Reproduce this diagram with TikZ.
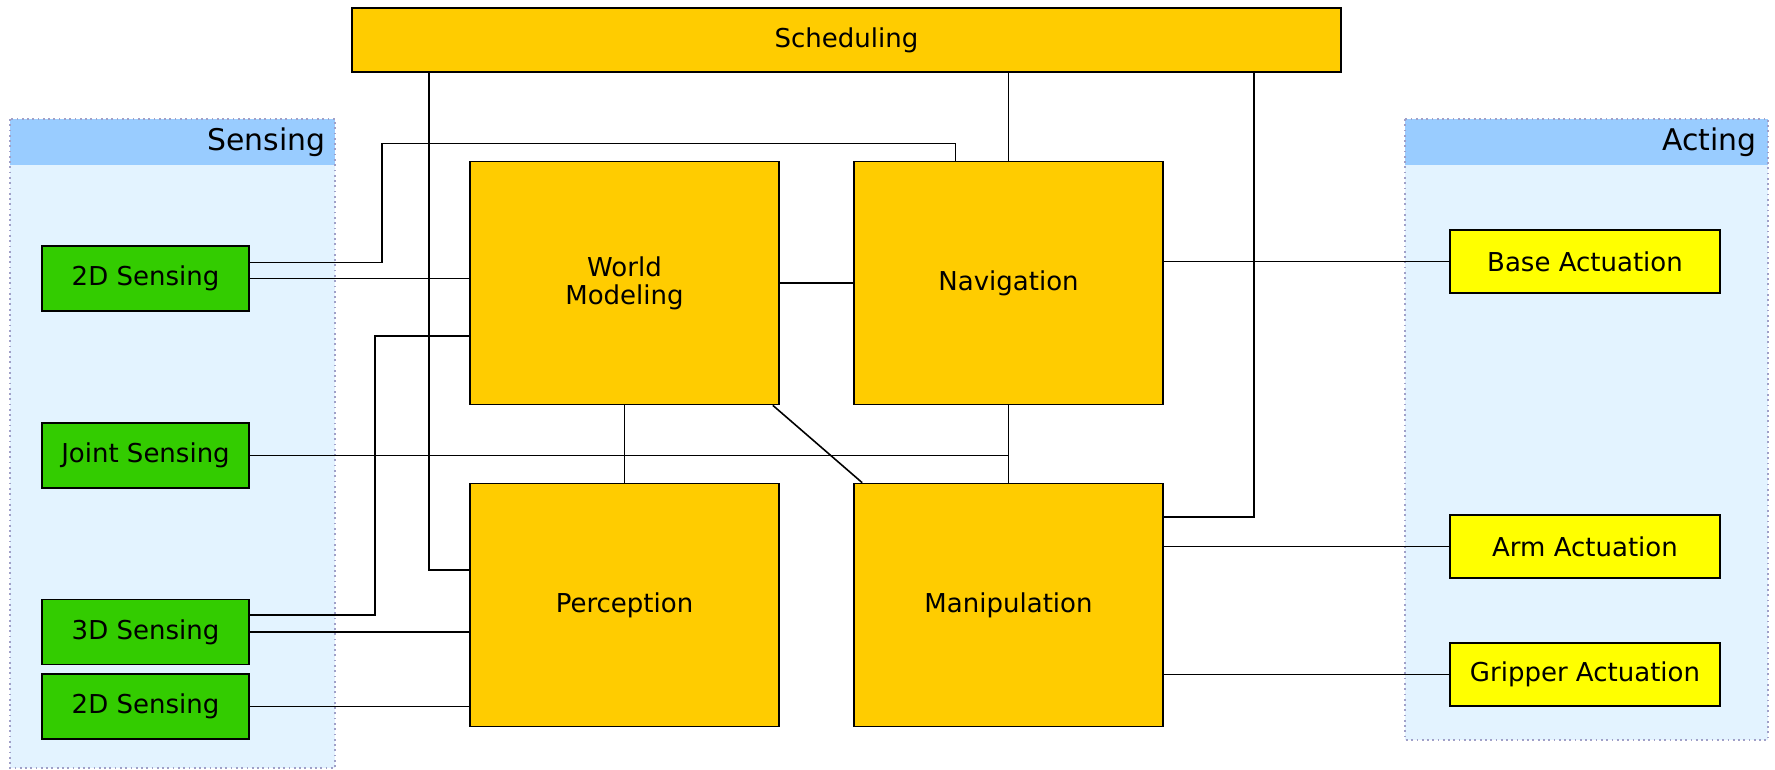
\documentclass[tikz,border=0pt]{standalone}
\usepackage{fontspec}
\setmainfont{DejaVu Sans}
\usepackage{tikz}
\usetikzlibrary{calc}

\definecolor{modcol}{HTML}{FFCC00}
\definecolor{senscol}{HTML}{33CC00}
\definecolor{actcol}{HTML}{FFFF00}
\definecolor{headcol}{HTML}{99CCFF}
\definecolor{panelcol}{HTML}{E3F3FF}
\definecolor{framecol}{HTML}{A0A0C8}

\tikzset{
  module/.style={draw=black, line width=1pt, fill=modcol, minimum width=6.18cm, minimum height=4.86cm, inner sep=0pt, align=center, font=\fontsize{14.8}{16}\selectfont},
  sensor/.style={draw=black, line width=1pt, fill=senscol, minimum width=4.14cm, minimum height=1.3cm, inner sep=0pt, font=\fontsize{14.8}{16}\selectfont},
  actor/.style={draw=black, line width=1pt, fill=actcol, minimum width=5.4cm, minimum height=1.26cm, inner sep=0pt, font=\fontsize{14.8}{16}\selectfont},
  wire/.style={line width=0.9pt},
  panel/.style={fill=panelcol, draw=framecol, dotted, line width=1pt},
  headbar/.style={fill=headcol},
  headtext/.style={anchor=east, inner sep=0pt, font=\fontsize{17}{20}\selectfont}
}

\begin{document}
\begin{tikzpicture}[x=0.02cm, y=-0.02cm]
  \useasboundingbox (0,0) rectangle (1775,769);

  % panels
  \fill[panelcol] (10,119) rectangle (335,768);
  \fill[headcol] (10,119) rectangle (335,165);
  \draw[panel, fill=none] (10,119) rectangle (335,768);
  \node[headtext] (senshead) at (326,142) {Sensing};

  \fill[panelcol] (1405,119) rectangle (1768,740);
  \fill[headcol] (1405,119) rectangle (1768,165);
  \draw[panel, fill=none] (1405,119) rectangle (1768,740);
  \node[headtext] (acthead) at (1757,142) {Acting};

  % modules
  \node[module, minimum width=19.78cm, minimum height=1.28cm] (sched) at (846.5,40) {Scheduling};
  \node[module] (wm) at (624.5,283) {World\\Modeling};
  \node[module] (nav) at (1008.5,283) {Navigation};
  \node[module] (per) at (624.5,605) {Perception};
  \node[module] (man) at (1008.5,605) {Manipulation};

  % sensors
  \node[sensor] (sA) at (145.5,278.5) {2D Sensing};
  \node[sensor] (sJ) at (145.5,455.5) {Joint Sensing};
  \node[sensor] (s3) at (145.5,632) {3D Sensing};
  \node[sensor] (sB) at (145.5,706.5) {2D Sensing};

  % actuators
  \node[actor] (base) at (1585,261.5) {Base Actuation};
  \node[actor] (arm) at (1585,546.5) {Arm Actuation};
  \node[actor] (grip) at (1585,674.5) {Gripper Actuation};

  % scheduling links
  \draw[wire] ($(sched.south west)+(78,0)$) |- ($(per.west)+(0,-35)$);
  \draw[wire] (sched.south -| nav.north) -- (nav.north);
  \draw[wire] ($(sched.south east)+(-88,0)$) |- ($(man.east)+(0,-88)$);

  % sensing links
  \draw[wire] ($(sA.east)+(0,-16)$) -| ++(132,-119) -| ($(nav.north)+(-53,0)$);
  \draw[wire] (sA.east) -- (sA.east -| wm.west);
  \draw[wire] ($(s3.east)+(0,-17)$) -| ($(wm.west)+(-94,53)$) -- ($(wm.west)+(0,53)$);
  \draw[wire] (s3.east) -- (s3.east -| per.west);
  \draw[wire] (sB.east) -- (sB.east -| per.west);
  \draw[wire] (sJ.east) -- (sJ.east -| nav.south);

  % module links
  \draw[wire] (wm.east) -- (nav.west);
  \draw[wire] (wm.south) -- (per.north);
  \draw[wire] (nav.south) -- (man.north);
  \draw[wire] ($(wm.south east)+(-7,0)$) -- ($(man.north west)+(9,0)$);

  % acting links
  \draw[wire] (base.west -| nav.east) -- (base.west);
  \draw[wire] (arm.west -| man.east) -- (arm.west);
  \draw[wire] (grip.west -| man.east) -- (grip.west);
\end{tikzpicture}
\end{document}
